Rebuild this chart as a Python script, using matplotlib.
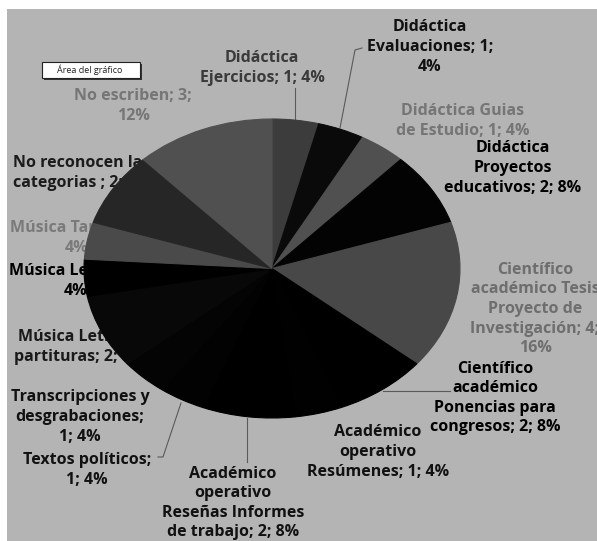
import matplotlib
matplotlib.use("Agg")
import matplotlib.pyplot as plt
from matplotlib.patches import Rectangle

plt.rcParams['font.family'] = ['Open Sans', 'DejaVu Sans']

# Categorías del gráfico, en sentido horario desde las 12
categorias = [
    "Didáctica\nEjercicios", "Didáctica\nEvaluaciones", "Didáctica Guias\nde Estudio",
    "Didáctica\nProyectos\neducativos", "Científico\nacadémico Tesis\nProyecto de\nInvestigación",
    "Científico\nacadémico\nPonencias para\ncongresos", "Académico\noperativo\nResúmenes",
    "Académico\noperativo\nReseñas Informes\nde trabajo", "Textos políticos",
    "Transcripciones y\ndesgrabaciones", "Música Letras y\npartituras", "Música Letras",
    "Música Tareas", "No reconocen las\ncategorias ", "No escriben",
]
cantidades = [1, 1, 1, 2, 4, 2, 1, 2, 1, 1, 2, 1, 1, 2, 3]
total = sum(cantidades)

colores = ["#3c3c3c", "#0a0a0a", "#505050", "#030303", "#484848",
           "#000000", "#010101", "#000000", "#020202", "#040404",
           "#080808", "#000000", "#4a4a4a", "#262626", "#505050"]

# textos de las etiquetas tal como se cortan en renglones
etiquetas = [
    "Didáctica\nEjercicios; 1; 4%",
    "Didáctica\nEvaluaciones; 1;\n4%",
    "Didáctica Guias\nde Estudio; 1; 4%",
    "Didáctica\nProyectos\neducativos; 2; 8%",
    "Científico\nacadémico Tesis\nProyecto de\nInvestigación; 4;\n16%",
    "Científico\nacadémico\nPonencias para\ncongresos; 2; 8%",
    "Académico\noperativo\nResúmenes; 1; 4%",
    "Académico\noperativo\nReseñas Informes\nde trabajo; 2; 8%",
    "Textos políticos;\n1; 4%",
    "Transcripciones y\ndesgrabaciones;\n1; 4%",
    "Música Letras y\npartituras; 2; 8%",
    "Música Letras; 1;\n4%",
    "Música Tareas; 1;\n4%",
    "No reconocen las\ncategorias ; 2; 8%",
    "No escriben; 3;\n12%",
]
pos_etiquetas = [(262, 68), (430, 47), (463, 121), (513, 168), (535, 309),
                 (495, 398), (378, 452), (233, 503), (87, 470), (80, 417),
                 (80, 347), (76, 281), (77, 238), (82, 173), (133, 106)]
color_etiquetas = ["#3a3a3a", "#111111", "#757575", "#000000", "#6e6e6e",
                   "#000000", "#111111", "#111111", "#111111", "#111111",
                   "#1a1a1a", "#000000", "#7a7a7a", "#1c1c1c", "#767676"]

fig = plt.figure(figsize=(5.97, 5.41), dpi=100)
fig.patch.set_facecolor("white")

# capa de fondo y textos en coordenadas de pixel
bg = fig.add_axes([0, 0, 1, 1])
bg.set_xlim(0, 597)
bg.set_ylim(541, 0)
bg.axis("off")
bg.add_patch(Rectangle((7, 9), 590, 532, facecolor="#b4b4b4", edgecolor="none", zorder=0))

for txt, (x, y), c in zip(etiquetas, pos_etiquetas, color_etiquetas):
    bg.text(x, y, txt, ha="center", va="center", fontsize=11.5, fontweight="bold",
            color=c, linespacing=1.3, zorder=2)

# líneas guía
guias = [
    ([295, 295], [88, 120]),
    ([340, 355, 362], [128, 50, 48]),
    ([158, 163, 181], [457, 457, 403]),
    ([247, 247], [418, 462]),
    ([383, 450], [391, 391]),
]
for xs, ys in guias:
    bg.plot(xs, ys, color="#5a5a5a", lw=0.8, zorder=1)

# recuadro "Área del gráfico"
bg.add_patch(Rectangle((44, 64), 98, 16, facecolor="#333333", edgecolor="none", zorder=3))
bg.add_patch(Rectangle((42, 62), 98, 16, facecolor="white", edgecolor="#222222", lw=0.8, zorder=4))
bg.text(90, 70, "Área del gráfico", ha="center", va="center", fontsize=6.5,
        color="#222222", zorder=5)

# torta elíptica, por encima de las etiquetas
pie_ax = fig.add_axes([84 / 597, (541 - 418) / 541, 376 / 597, 299 / 541])
pie_ax.set_zorder(2)
pie_ax.patch.set_alpha(0)
cunas, _ = pie_ax.pie(cantidades, colors=colores, startangle=90, counterclock=False)
for w in cunas:
    w.set_edgecolor(w.get_facecolor())
    w.set_linewidth(0.8)
pie_ax.set_aspect("auto")
pie_ax.set_xlim(-1, 1)
pie_ax.set_ylim(-1, 1)
pie_ax.axis("off")

fig.savefig("out.png", dpi=100, facecolor="white")
